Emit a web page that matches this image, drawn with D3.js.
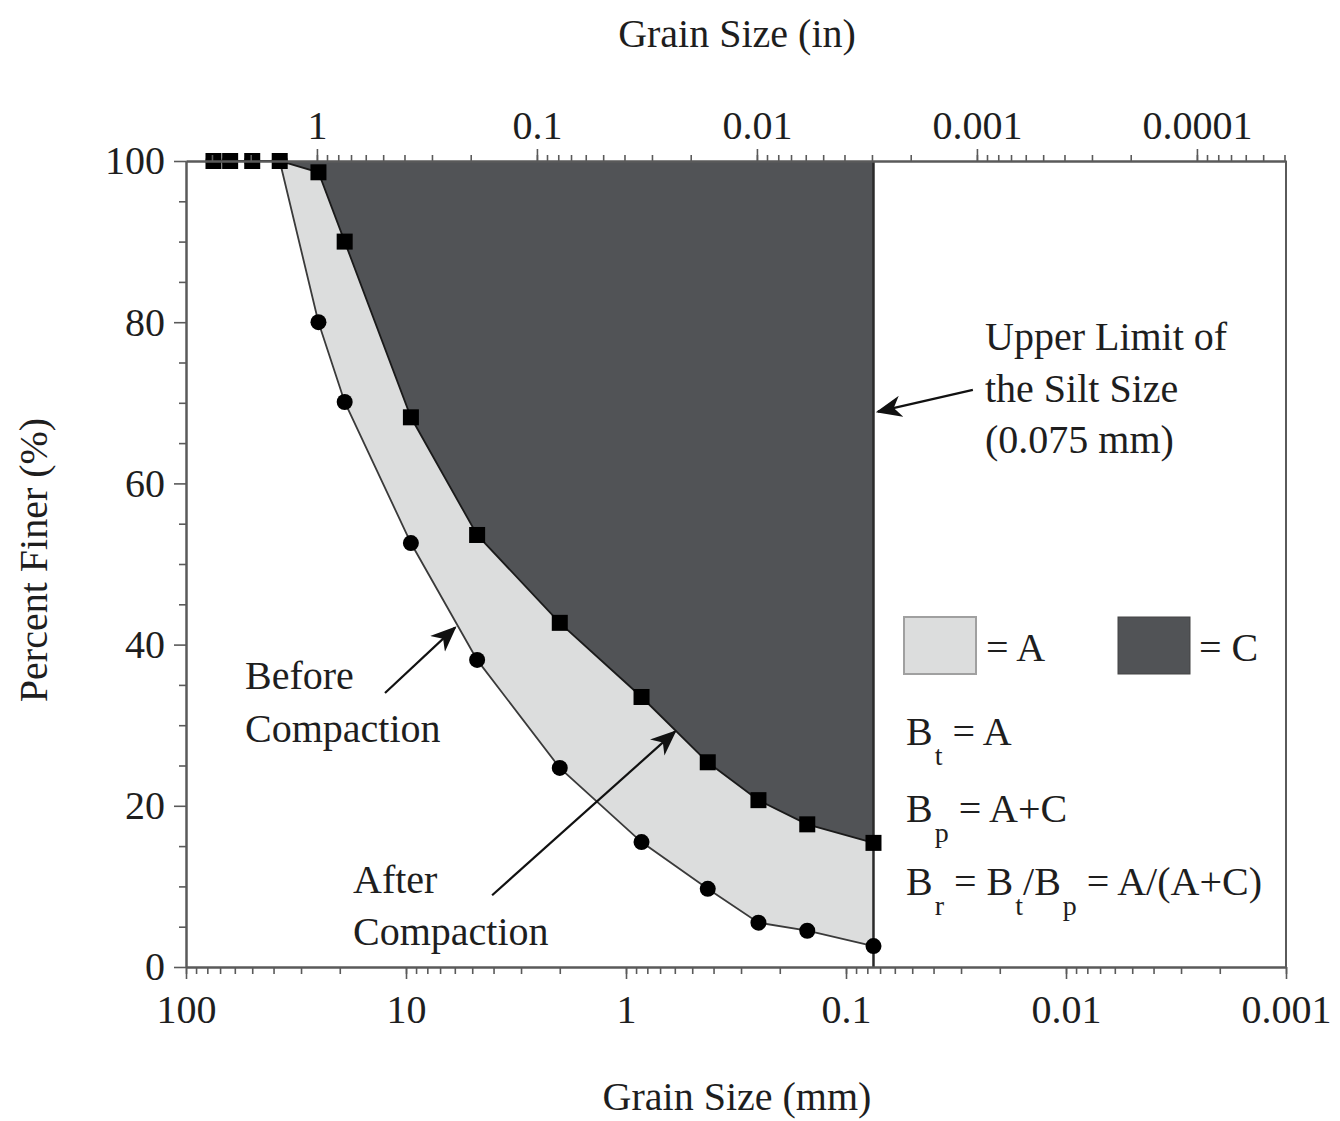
<!DOCTYPE html>
<html>
<head>
<meta charset="utf-8">
<script src="https://cdn.jsdelivr.net/npm/d3@7"></script>
<style>
  body { margin: 0; background: #fff; }
  svg text { font-family: "Liberation Serif", "Times New Roman", serif; fill: #1e1e1e; }
</style>
</head>
<body>
<div id="chart"></div>
<script>
// sieve sizes in mm
const sieveSizes = [75, 63, 50, 37.5, 25, 19, 9.5, 4.75, 2.0, 0.85, 0.425, 0.25, 0.15, 0.075];
// percent finer, before compaction (circles)
const beforeFiner = [100, 100, 100, 100, 80.0, 70.1, 52.6, 38.1, 24.7, 15.5, 9.7, 5.5, 4.5, 2.6];
// percent finer, after compaction (squares)
const afterFiner = [100, 100, 100, 100, 98.6, 90.0, 68.2, 53.6, 42.7, 33.5, 25.4, 20.7, 17.7, 15.4];
const siltLimit = 0.075;

const mmTicks = [100, 10, 1, 0.1, 0.01, 0.001];
const mmTickLabels = ["100", "10", "1", "0.1", "0.01", "0.001"];
const inTicks = [1, 0.1, 0.01, 0.001, 0.0001];
const inTickLabels = ["1", "0.1", "0.01", "0.001", "0.0001"];
const pctTicks = [0, 20, 40, 60, 80, 100];
const pctMinor = [5, 10, 15, 25, 30, 35, 45, 50, 55, 65, 70, 75, 85, 90, 95];

window.onload = () => {
  const width = 1340, height = 1121;
  const left = 186, right = 1286, top = 161, bottom = 967;

  const svg = d3.select("#chart").append("svg")
    .attr("width", width)
    .attr("height", height);

  const x = d3.scaleLog().domain([100, 0.001]).range([left, right]);
  const xIn = d3.scaleLog().domain([100 / 25.4, 0.001 / 25.4]).range([left, right]);
  const y = d3.scaleLinear().domain([0, 100]).range([bottom, top]);

  const rows = sieveSizes.map((s, i) => ({ size: s, before: beforeFiner[i], after: afterFiner[i] }));
  const startIdx = beforeFiner.lastIndexOf(100);
  const zone = rows.slice(startIdx);

  // dark region C (above after-compaction curve)
  const areaC = d3.area()
    .x(d => x(d.size))
    .y0(d => y(d.after))
    .y1(y(100));
  svg.append("path").datum(zone)
    .attr("d", areaC)
    .attr("fill", "#515356");

  // light region A (between curves)
  const areaA = d3.area()
    .x(d => x(d.size))
    .y0(d => y(d.before))
    .y1(d => y(d.after));
  svg.append("path").datum(zone)
    .attr("d", areaA)
    .attr("fill", "#dcdddd");

  // silt limit line
  svg.append("line")
    .attr("x1", x(siltLimit)).attr("x2", x(siltLimit))
    .attr("y1", y(0)).attr("y2", y(100))
    .attr("stroke", "#2a2a2a").attr("stroke-width", 2.5);

  // curves
  const lineBefore = d3.line().x(d => x(d.size)).y(d => y(d.before));
  const lineAfter = d3.line().x(d => x(d.size)).y(d => y(d.after));
  svg.append("path").datum(rows).attr("d", lineBefore)
    .attr("fill", "none").attr("stroke", "#3a3a3a").attr("stroke-width", 1.8);
  svg.append("path").datum(rows).attr("d", lineAfter)
    .attr("fill", "none").attr("stroke", "#1a1a1a").attr("stroke-width", 1.8);

  // markers
  svg.append("g").selectAll("circle").data(rows).join("circle")
    .attr("cx", d => x(d.size)).attr("cy", d => y(d.before))
    .attr("r", 8).attr("fill", "#000");
  svg.append("g").selectAll("rect").data(rows).join("rect")
    .attr("x", d => x(d.size) - 8).attr("y", d => y(d.after) - 8)
    .attr("width", 16).attr("height", 16).attr("fill", "#000");

  // axes
  const axisColor = "#5a5a5a";
  function styleAxis(g) {
    g.select(".domain").attr("stroke", axisColor).attr("stroke-width", 2);
    g.selectAll(".tick line").attr("stroke", axisColor).attr("stroke-width", 1.6);
    g.selectAll("text").attr("font-size", 40).attr("font-family", "Liberation Serif, serif").attr("fill", "#1e1e1e");
  }

  // bottom (mm)
  svg.append("g").attr("transform", `translate(0,${bottom})`)
    .call(d3.axisBottom(x).tickValues(x.ticks()).tickSize(7).tickSizeOuter(0).tickFormat(""))
    .call(styleAxis);
  svg.append("g").attr("transform", `translate(0,${bottom})`)
    .call(d3.axisBottom(x).tickValues(mmTicks).tickSize(12).tickSizeOuter(0).tickPadding(16)
      .tickFormat((d, i) => mmTickLabels[i]))
    .call(styleAxis);

  // top (inches)
  svg.append("g").attr("transform", `translate(0,${top})`)
    .call(d3.axisTop(xIn).tickValues(xIn.ticks()).tickSize(6).tickSizeOuter(0).tickFormat(""))
    .call(styleAxis);
  svg.append("g").attr("transform", `translate(0,${top})`)
    .call(d3.axisTop(xIn).tickValues(inTicks).tickSize(12).tickSizeOuter(0).tickPadding(10)
      .tickFormat((d, i) => inTickLabels[i]))
    .call(styleAxis);

  // left (percent)
  svg.append("g").attr("transform", `translate(${left},0)`)
    .call(d3.axisLeft(y).tickValues(pctMinor).tickSize(7).tickSizeOuter(0).tickFormat(""))
    .call(styleAxis);
  svg.append("g").attr("transform", `translate(${left},0)`)
    .call(d3.axisLeft(y).tickValues(pctTicks).tickSize(12).tickSizeOuter(0).tickPadding(9)
      .tickFormat(d3.format("d")))
    .call(styleAxis);

  // right border
  svg.append("line")
    .attr("x1", right).attr("x2", right).attr("y1", top).attr("y2", bottom)
    .attr("stroke", axisColor).attr("stroke-width", 2);

  // axis titles
  svg.append("text").attr("x", 737).attr("y", 47).attr("text-anchor", "middle")
    .attr("font-size", 40).text("Grain Size (in)");
  svg.append("text").attr("x", 737).attr("y", 1110).attr("text-anchor", "middle")
    .attr("font-size", 40).text("Grain Size (mm)");
  svg.append("text").attr("transform", "translate(47,560) rotate(-90)")
    .attr("text-anchor", "middle").attr("font-size", 40).text("Percent Finer (%)");

  // arrows
  svg.append("defs").append("marker")
    .attr("id", "arrow").attr("viewBox", "0 0 12 10")
    .attr("refX", 11).attr("refY", 5)
    .attr("markerWidth", 26).attr("markerHeight", 22)
    .attr("markerUnits", "userSpaceOnUse")
    .attr("orient", "auto")
    .append("path").attr("d", "M0,0 L12,5 L0,10 L3.5,5 Z").attr("fill", "#111");

  const arrows = [
    { from: [12.46, 34.0], to: [5.99, 42.1] },   // before compaction
    { from: [4.06, 8.9], to: [0.599, 29.2] },    // after compaction
    { from: [0.0265, 71.6], to: [0.0716, 68.9] } // silt limit
  ];
  svg.append("g").selectAll("line").data(arrows).join("line")
    .attr("x1", d => x(d.from[0])).attr("y1", d => y(d.from[1]))
    .attr("x2", d => x(d.to[0])).attr("y2", d => y(d.to[1]))
    .attr("stroke", "#111").attr("stroke-width", 2.2)
    .attr("marker-end", "url(#arrow)");

  // annotation texts
  const notes = [
    { x: 245, y: 689, t: "Before" },
    { x: 245, y: 742, t: "Compaction" },
    { x: 353, y: 893, t: "After" },
    { x: 353, y: 945, t: "Compaction" },
    { x: 985, y: 350, t: "Upper Limit of" },
    { x: 985, y: 402, t: "the Silt Size" },
    { x: 985, y: 453, t: "(0.075 mm)" }
  ];
  svg.append("g").selectAll("text").data(notes).join("text")
    .attr("x", d => d.x).attr("y", d => d.y)
    .attr("font-size", 40).text(d => d.t);

  // legend
  svg.append("rect").attr("x", 904).attr("y", 617).attr("width", 72).attr("height", 57)
    .attr("fill", "#dcdddd").attr("stroke", "#a0a0a0").attr("stroke-width", 2);
  svg.append("text").attr("x", 986).attr("y", 661).attr("font-size", 40).text("= A");
  svg.append("rect").attr("x", 1118).attr("y", 617).attr("width", 72).attr("height", 57)
    .attr("fill", "#515356").attr("stroke", "#444").attr("stroke-width", 1);
  svg.append("text").attr("x", 1199).attr("y", 661).attr("font-size", 40).text("= C");

  // formulas with subscripts
  const formulas = [
    { y: 745, parts: [["B", 0], ["t", 1], [" = A", 0]] },
    { y: 822, parts: [["B", 0], ["p", 1], [" = A+C", 0]] },
    { y: 895, parts: [["B", 0], ["r", 1], [" = B", 0], ["t", 1], ["/B", 0], ["p", 1], [" = A/(A+C)", 0]] }
  ];
  formulas.forEach(f => {
    const t = svg.append("text").attr("x", 906).attr("y", f.y).attr("font-size", 40);
    let shifted = false;
    f.parts.forEach(([s, sub]) => {
      const span = t.append("tspan").text(s);
      if (sub) { span.attr("font-size", 28).attr("dy", 20).attr("dx", 2); shifted = true; }
      else if (shifted) { span.attr("dy", -20); shifted = false; }
    });
  });
};
</script>
</body>
</html>
